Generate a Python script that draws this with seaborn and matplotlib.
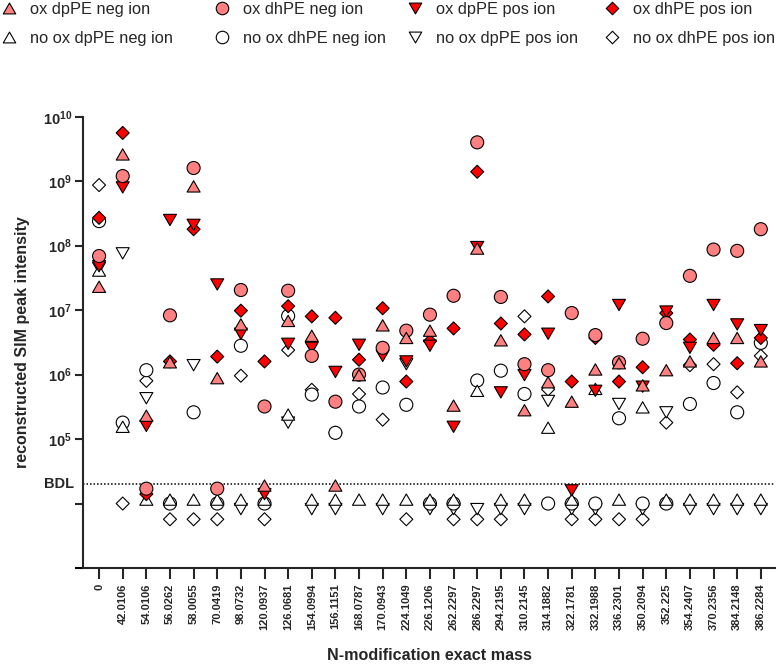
import numpy as np
import pandas as pd
import matplotlib
matplotlib.use("Agg")
import matplotlib.pyplot as plt
import matplotlib.transforms as mtransforms
from matplotlib.path import Path
from matplotlib.lines import Line2D
from matplotlib.ticker import NullLocator
import seaborn as sns

# Data ---------------------------------------------------------------
masses = ["0", "42.0106", "54.0106", "56.0262", "58.0055", "70.0419", "98.0732",
          "120.0937", "126.0681", "154.0994", "156.1151", "168.0787", "170.0943",
          "224.1049", "226.1206", "262.2297", "286.2297", "294.2195", "310.2145",
          "314.1882", "322.1781", "332.1988", "336.2301", "350.2094", "352.225",
          "354.2407", "370.2356", "384.2148", "386.2284"]

ox_dppe_neg = [2.3e7, 2.6e9, 2.3e5, 1.55e6, 8.3e8, 8.8e5, 6.0e6, 1.9e4, 6.8e6, 4.0e6,
               1.9e4, 9.8e5, 5.8e6, 3.7e6, 4.8e6, 3.3e5, 9.0e7, 3.4e6, 2.8e5, 7.6e5,
               3.8e5, 1.2e6, 1.5e6, 6.8e5, 1.17e6, 1.6e6, 3.7e6, 3.7e6, 1.6e6]
ox_dhpe_neg = [6.9e7, 1.2e9, 1.7e4, 8.3e6, 1.6e9, 1.7e4, 2.05e7, 3.2e5, 2.0e7, 1.95e6,
               3.8e5, 1.0e6, 2.6e6, 4.8e6, 8.5e6, 1.67e7, 4.0e9, 1.6e7, 1.45e6, 1.17e6,
               9.0e6, 4.1e6, 1.55e6, 3.6e6, 6.3e6, 3.4e7, 8.7e7, 8.3e7, 1.8e8]
ox_dppe_pos = [4.8e7, 8.0e8, 1.6e5, 2.5e8, 2.1e8, 2.5e7, 4.3e6, 1.4e4, 3.0e6, 2.6e6,
               1.1e6, 2.9e6, 1.95e6, 1.6e6, 2.8e6, 1.55e5, 9.5e7, 5.3e5, 9.8e5, 4.3e6,
               1.6e4, 5.6e5, 1.2e7, 6.5e5, 9.5e6, 2.6e6, 1.2e7, 6.0e6, 4.9e6]
ox_dhpe_pos = [2.7e8, 5.6e9, 1.4e4, 1.6e6, 1.8e8, 1.9e6, 9.8e6, 1.6e6, 1.15e7, 8.0e6,
               7.6e6, 1.7e6, 1.07e7, 7.8e5, 3.3e6, 5.2e6, 1.4e9, 6.2e6, 4.2e6, 1.63e7,
               7.8e5, 3.7e6, 7.8e5, 1.3e6, 9.0e6, 3.5e6, 2.9e6, 1.5e6, 3.7e6]
no_ox_dppe_neg = [4.1e7, 1.55e5, 1.15e4, 1.15e4, 1.15e4, 1.15e4, 1.15e4, 1.15e4, 2.4e5, 1.15e4,
                  1.15e4, 1.15e4, 1.15e4, 1.15e4, 1.15e4, 1.15e4, 5.6e5, 1.15e4, 1.15e4, 1.5e5,
                  1.15e4, 6.0e5, 1.15e4, 3.1e5, 1.15e4, 1.15e4, 1.15e4, 1.15e4, 1.15e4]
no_ox_dhpe_neg = [2.4e8, 1.8e5, 1.17e6, 1.0e4, 2.6e5, 1.0e4, 2.8e6, 1.0e4, 8.1e6, 4.9e5,
                  1.25e5, 3.2e5, 6.3e5, 3.4e5, 1.0e4, 1.0e4, 8.1e5, 1.15e6, 5.0e5, 1.0e4,
                  1.0e4, 1.0e4, 2.1e5, 1.0e4, 1.0e4, 3.5e5, 7.4e5, 2.6e5, 3.1e6]
no_ox_dppe_pos = [4.5e7, 7.6e7, 4.3e5, np.nan, 1.4e6, np.nan, 8.2e3, np.nan, 1.8e5, 8.2e3,
                  8.2e3, np.nan, 8.2e3, 1.45e6, 8.2e3, 8.2e3, 8.2e3, 8.2e3, 8.2e3, 3.9e5,
                  8.2e3, 8.2e3, 3.5e5, 8.2e3, 2.6e5, 8.2e3, 8.2e3, 8.2e3, 8.2e3]
no_ox_dhpe_pos = [8.7e8, 1.0e4, 8.0e5, 5.7e3, 5.7e3, 5.7e3, 9.6e5, 5.7e3, 2.4e6, 5.8e5,
                  1.25e5, 5.0e5, 2.0e5, 5.7e3, np.nan, 5.7e3, 5.7e3, 5.7e3, 8.0e6, 5.9e5,
                  5.7e3, 5.7e3, 5.7e3, 5.7e3, 1.8e5, 1.4e6, 1.45e6, 5.3e5, 1.95e6]

bdl = 2e4

series = {
    "ox dpPE neg ion": ox_dppe_neg,
    "ox dhPE neg ion": ox_dhpe_neg,
    "ox dpPE pos ion": ox_dppe_pos,
    "ox dhPE pos ion": ox_dhpe_pos,
    "no ox dpPE neg ion": no_ox_dppe_neg,
    "no ox dhPE neg ion": no_ox_dhpe_neg,
    "no ox dpPE pos ion": no_ox_dppe_pos,
    "no ox dhPE pos ion": no_ox_dhpe_pos,
}

# Marker shapes (equilateral triangles, diamond as wide as the circle)
tri_up = Path([(0, 0.866), (-1, -0.866), (1, -0.866), (0, 0.866)],
              [Path.MOVETO, Path.LINETO, Path.LINETO, Path.CLOSEPOLY])
tri_down = Path([(0, -0.866), (-1, 0.866), (1, 0.866), (0, -0.866)],
                [Path.MOVETO, Path.LINETO, Path.LINETO, Path.CLOSEPOLY])
diamond = Path([(0, 1), (1, 0), (0, -1), (-1, 0), (0, 1)],
               [Path.MOVETO, Path.LINETO, Path.LINETO, Path.LINETO, Path.CLOSEPOLY])

pink, red = "#FF8080", "#FF0000"
palette = {
    "ox dpPE neg ion": pink, "ox dhPE neg ion": pink,
    "ox dpPE pos ion": red, "ox dhPE pos ion": red,
    "no ox dpPE neg ion": "white", "no ox dhPE neg ion": "white",
    "no ox dpPE pos ion": "white", "no ox dhPE pos ion": "white",
}
markers = {
    "ox dpPE neg ion": tri_up, "ox dhPE neg ion": "o",
    "ox dpPE pos ion": tri_down, "ox dhPE pos ion": diamond,
    "no ox dpPE neg ion": tri_up, "no ox dhPE neg ion": "o",
    "no ox dpPE pos ion": tri_down, "no ox dhPE pos ion": diamond,
}

# bottom -> top drawing order
draw_order = ["no ox dhPE pos ion", "no ox dpPE pos ion", "no ox dhPE neg ion",
              "no ox dpPE neg ion", "ox dhPE pos ion", "ox dpPE pos ion",
              "ox dhPE neg ion", "ox dpPE neg ion"]

df = pd.concat([pd.DataFrame({"pos": np.arange(len(masses)),
                              "intensity": series[name],
                              "series": name}) for name in draw_order])
df = df.dropna().reset_index(drop=True)

# Plot ---------------------------------------------------------------
sns.set_style("ticks")
plt.rcParams["font.family"] = ["Liberation Sans", "DejaVu Sans"]
plt.rcParams["mathtext.fontset"] = "custom"
plt.rcParams["mathtext.rm"] = "Liberation Sans:bold"
plt.rcParams["mathtext.bf"] = "Liberation Sans:bold"

fig = plt.figure(figsize=(7.78, 6.66), dpi=100)
ax = fig.add_axes([83 / 778, 1 - 568 / 666, 692 / 778, (568 - 116.7) / 666])

sns.scatterplot(data=df, x="pos", y="intensity", hue="series", style="series",
                palette=palette, markers=markers, s=88, edgecolor="black",
                linewidth=0.8, legend=False, ax=ax, zorder=3)

ax.set_yscale("log")
ax.set_ylim(1e3, 1e10)
ax.set_xlim(-0.68, 28.6)

ax.axhline(bdl, color="black", ls=(0, (1, 1.3)), lw=1.1, zorder=1)
trans = mtransforms.blended_transform_factory(ax.transAxes, ax.transData)
ax.text(-0.013, bdl, "BDL", transform=trans, ha="right", va="center",
        fontsize=10.5, fontweight="bold")

yt = [1e4, 1e5, 1e6, 1e7, 1e8, 1e9, 1e10]
ax.set_yticks(yt)
ax.set_yticklabels([""] + [r"$\mathbf{10^{%d}}$" % int(np.log10(v)) for v in yt[1:]],
                   fontsize=10.5)
ax.yaxis.set_minor_locator(NullLocator())

ax.set_xticks(np.arange(len(masses)))
ax.set_xticklabels(masses, rotation=90, fontsize=8, fontweight="bold")

ax.tick_params(axis="y", length=6, width=1.5, pad=2)
ax.tick_params(axis="x", length=8, width=1.5, pad=3)

sns.despine(ax=ax)
for sp in ["left", "bottom"]:
    ax.spines[sp].set_linewidth(1.5)
# x-axis line sticks out a little to the left of the y-axis
ax.plot([-0.012, 0], [0, 0], transform=ax.transAxes, color="black", lw=1.5,
        clip_on=False, solid_capstyle="butt")

ax.set_xlabel("N-modification exact mass", fontsize=11.6, fontweight="bold")
ax.set_ylabel("reconstructed SIM peak intensity", fontsize=11.5, fontweight="bold")
ax.xaxis.set_label_coords(0.501, -0.178)
ax.yaxis.set_label_coords(-0.076, 0.5)

# Legend: four columns of two entries each --------------------------
legend_cols = [["ox dpPE neg ion", "no ox dpPE neg ion"],
               ["ox dhPE neg ion", "no ox dhPE neg ion"],
               ["ox dpPE pos ion", "no ox dpPE pos ion"],
               ["ox dhPE pos ion", "no ox dhPE pos ion"]]
col_left = [1, 214, 407, 604]
for names, x0 in zip(legend_cols, col_left):
    handles = [Line2D([], [], ls="none", marker=markers[n], markersize=9,
                      markerfacecolor=palette[n], markeredgecolor="black",
                      markeredgewidth=0.8, label=n) for n in names]
    fig.legend(handles=handles, loc="upper left",
               bbox_to_anchor=(x0 / 778, 1 - 2 / 666), frameon=False,
               fontsize=11.8, handlelength=1.0, handletextpad=0.75,
               labelspacing=0.85, borderaxespad=0, borderpad=0)

fig.savefig("out.png", dpi=100)
